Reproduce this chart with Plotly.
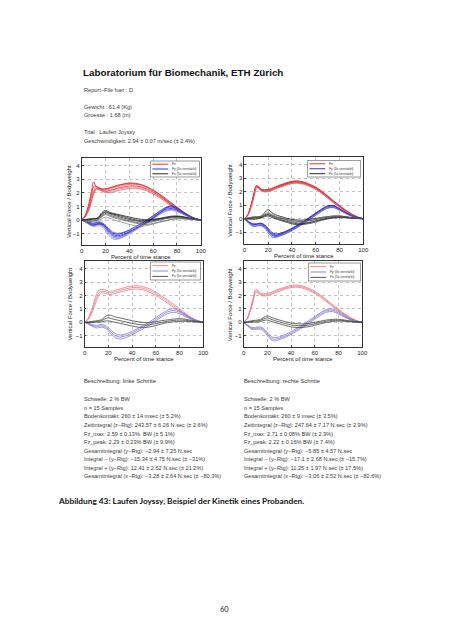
import plotly.graph_objects as go

W, H = 453, 640
OFF = 8          # default page margin of the html body
FW, FH = W - OFF, H - OFF

# ---------------- data ----------------
PCT = [0, 3, 6, 8, 10, 12, 14, 17, 20, 23, 26, 30, 35, 40, 45, 50, 55, 60, 65, 70, 75, 80, 85, 90, 95, 100]
X_TICKS = [0, 20, 40, 60, 80, 100]
Y_TICKS = [-1, 0, 1, 2, 3, 4]

# left steps, single trials
L_FZ = [
    [0, 0.35, 1.2, 2.0, 2.8, 2.45, 2.3, 2.25, 2.3, 2.35, 2.45, 2.55, 2.65, 2.72, 2.7, 2.6, 2.42, 2.18, 1.88, 1.55, 1.22, 0.92, 0.6, 0.33, 0.12, 0],
    [0, 0.3, 0.95, 1.6, 2.2, 2.45, 2.4, 2.25, 2.2, 2.25, 2.35, 2.45, 2.55, 2.62, 2.62, 2.55, 2.38, 2.14, 1.85, 1.52, 1.18, 0.88, 0.57, 0.3, 0.1, 0],
    [0, 0.25, 0.8, 1.4, 2.0, 2.3, 2.35, 2.2, 2.1, 2.15, 2.22, 2.33, 2.42, 2.5, 2.5, 2.42, 2.27, 2.05, 1.78, 1.47, 1.13, 0.83, 0.53, 0.28, 0.1, 0],
    [0, 0.28, 0.9, 1.5, 2.1, 2.35, 2.28, 2.15, 2.05, 2.08, 2.15, 2.25, 2.35, 2.42, 2.42, 2.35, 2.2, 1.98, 1.72, 1.4, 1.07, 0.78, 0.5, 0.26, 0.09, 0],
    [0, 0.32, 1.05, 1.8, 2.45, 2.5, 2.38, 2.3, 2.28, 2.32, 2.42, 2.52, 2.62, 2.68, 2.66, 2.58, 2.42, 2.2, 1.93, 1.62, 1.28, 0.95, 0.62, 0.34, 0.12, 0],
    [0, 0.22, 0.75, 1.3, 1.9, 2.2, 2.25, 2.12, 2.02, 2.0, 2.05, 2.15, 2.25, 2.33, 2.34, 2.28, 2.14, 1.93, 1.67, 1.36, 1.04, 0.75, 0.48, 0.25, 0.08, 0],
]
L_FY = [
    [0, -0.1, -0.22, -0.3, -0.33, -0.3, -0.25, -0.3, -0.5, -0.8, -1.05, -1.15, -1.05, -0.85, -0.62, -0.38, -0.1, 0.2, 0.5, 0.75, 0.85, 0.72, 0.5, 0.27, 0.1, 0],
    [0, -0.12, -0.28, -0.38, -0.42, -0.38, -0.32, -0.4, -0.65, -1.0, -1.25, -1.35, -1.2, -0.98, -0.72, -0.45, -0.18, 0.12, 0.42, 0.68, 0.78, 0.66, 0.45, 0.24, 0.08, 0],
    [0, -0.08, -0.18, -0.22, -0.25, -0.22, -0.18, -0.25, -0.45, -0.72, -0.95, -1.05, -0.95, -0.75, -0.5, -0.25, 0.02, 0.32, 0.62, 0.9, 0.98, 0.82, 0.56, 0.3, 0.1, 0],
    [0, -0.15, -0.32, -0.42, -0.48, -0.45, -0.4, -0.5, -0.78, -1.15, -1.38, -1.42, -1.25, -1.0, -0.75, -0.5, -0.22, 0.08, 0.38, 0.62, 0.72, 0.62, 0.42, 0.22, 0.08, 0],
    [0, -0.1, -0.25, -0.35, -0.38, -0.35, -0.3, -0.35, -0.58, -0.9, -1.15, -1.25, -1.12, -0.9, -0.66, -0.4, -0.14, 0.16, 0.48, 0.8, 1.05, 0.9, 0.6, 0.32, 0.11, 0],
    [0, -0.06, -0.15, -0.2, -0.22, -0.18, -0.12, -0.18, -0.38, -0.65, -0.88, -0.98, -0.9, -0.72, -0.5, -0.27, 0.0, 0.28, 0.58, 0.85, 0.95, 0.8, 0.55, 0.3, 0.1, 0],
]
L_FX = [
    [0, 0.02, 0.05, 0.05, 0.08, 0.1, 0.2, 0.55, 0.72, 0.58, 0.5, 0.42, 0.32, 0.22, 0.12, 0.05, 0.02, 0.05, 0.1, 0.16, 0.22, 0.24, 0.2, 0.12, 0.05, 0],
    [0, -0.05, -0.1, -0.1, -0.08, -0.05, 0.0, 0.25, 0.4, 0.3, 0.2, 0.1, -0.02, -0.12, -0.22, -0.3, -0.32, -0.25, -0.15, -0.05, 0.05, 0.1, 0.1, 0.07, 0.03, 0],
    [0, 0.0, 0.02, 0.04, 0.06, 0.08, 0.12, 0.4, 0.58, 0.48, 0.38, 0.28, 0.15, 0.05, -0.05, -0.12, -0.12, -0.05, 0.05, 0.15, 0.22, 0.26, 0.22, 0.13, 0.05, 0],
    [0, -0.08, -0.12, -0.12, -0.1, -0.08, -0.05, 0.1, 0.22, 0.15, 0.05, -0.08, -0.2, -0.32, -0.42, -0.45, -0.4, -0.3, -0.18, -0.08, 0.02, 0.08, 0.08, 0.05, 0.02, 0],
    [0, 0.03, 0.08, 0.1, 0.12, 0.12, 0.15, 0.45, 0.62, 0.52, 0.45, 0.35, 0.25, 0.12, 0.02, -0.05, -0.05, 0.02, 0.1, 0.2, 0.28, 0.3, 0.25, 0.15, 0.06, 0],
    [0, -0.03, -0.05, -0.04, -0.02, 0.0, 0.05, 0.3, 0.48, 0.38, 0.28, 0.18, 0.05, -0.05, -0.15, -0.22, -0.2, -0.12, -0.02, 0.08, 0.15, 0.18, 0.15, 0.09, 0.03, 0],
]

# right steps, single trials
R_FZ = [
    [0, 0.3, 1.1, 1.8, 2.42, 2.35, 2.15, 2.1, 2.12, 2.2, 2.32, 2.45, 2.6, 2.72, 2.75, 2.68, 2.5, 2.3, 2.0, 1.65, 1.28, 0.95, 0.62, 0.35, 0.13, 0],
    [0, 0.28, 1.0, 1.65, 2.3, 2.3, 2.1, 2.02, 2.05, 2.12, 2.25, 2.38, 2.53, 2.65, 2.68, 2.6, 2.43, 2.22, 1.93, 1.58, 1.22, 0.9, 0.58, 0.32, 0.12, 0],
    [0, 0.32, 1.15, 1.9, 2.45, 2.38, 2.2, 2.15, 2.18, 2.25, 2.36, 2.5, 2.65, 2.78, 2.8, 2.72, 2.55, 2.35, 2.05, 1.7, 1.32, 0.98, 0.64, 0.36, 0.13, 0],
    [0, 0.25, 0.95, 1.6, 2.2, 2.25, 2.05, 1.98, 2.0, 2.08, 2.2, 2.33, 2.48, 2.6, 2.62, 2.55, 2.38, 2.18, 1.88, 1.52, 1.18, 0.86, 0.55, 0.3, 0.11, 0],
    [0, 0.3, 1.05, 1.75, 2.38, 2.32, 2.12, 2.06, 2.08, 2.16, 2.28, 2.42, 2.57, 2.7, 2.72, 2.64, 2.47, 2.26, 1.96, 1.62, 1.25, 0.92, 0.6, 0.33, 0.12, 0],
    [0, 0.27, 1.02, 1.7, 2.35, 2.28, 2.08, 2.0, 2.02, 2.1, 2.22, 2.35, 2.5, 2.62, 2.65, 2.58, 2.41, 2.2, 1.9, 1.55, 1.2, 0.88, 0.57, 0.31, 0.11, 0],
]
R_FY = [
    [0, -0.2, -0.4, -0.45, -0.45, -0.42, -0.42, -0.55, -0.85, -1.15, -1.25, -1.18, -1.0, -0.78, -0.52, -0.25, 0.05, 0.35, 0.65, 0.88, 0.92, 0.7, 0.45, 0.22, 0.08, 0],
    [0, -0.25, -0.48, -0.52, -0.5, -0.48, -0.5, -0.7, -1.05, -1.35, -1.4, -1.28, -1.08, -0.85, -0.6, -0.32, -0.02, 0.28, 0.58, 0.8, 0.85, 0.65, 0.42, 0.2, 0.07, 0],
    [0, -0.18, -0.35, -0.38, -0.38, -0.35, -0.33, -0.45, -0.72, -1.0, -1.12, -1.08, -0.92, -0.7, -0.45, -0.18, 0.12, 0.42, 0.72, 0.95, 0.98, 0.75, 0.48, 0.24, 0.08, 0],
    [0, -0.22, -0.42, -0.48, -0.48, -0.45, -0.45, -0.62, -0.95, -1.25, -1.32, -1.22, -1.04, -0.82, -0.56, -0.28, 0.02, 0.32, 0.62, 0.85, 0.88, 0.68, 0.44, 0.21, 0.07, 0],
    [0, -0.2, -0.38, -0.42, -0.4, -0.36, -0.35, -0.5, -0.8, -1.08, -1.2, -1.15, -0.97, -0.75, -0.5, -0.22, 0.08, 0.38, 0.68, 0.92, 0.96, 0.73, 0.47, 0.23, 0.08, 0],
    [0, -0.28, -0.52, -0.58, -0.56, -0.52, -0.52, -0.6, -0.9, -1.2, -1.32, -1.25, -1.1, -0.88, -0.62, -0.35, -0.05, 0.25, 0.55, 0.78, 0.82, 0.64, 0.41, 0.2, 0.07, 0],
]
R_FX = [
    [0, 0.05, 0.1, 0.12, 0.12, 0.12, 0.15, 0.45, 0.68, 0.45, 0.3, 0.18, 0.05, -0.05, -0.1, -0.1, -0.05, 0.02, 0.1, 0.16, 0.2, 0.2, 0.15, 0.08, 0.03, 0],
    [0, 0.02, 0.05, 0.06, 0.08, 0.1, 0.12, 0.25, 0.32, 0.22, 0.12, 0.02, -0.1, -0.22, -0.3, -0.3, -0.25, -0.15, -0.05, 0.05, 0.12, 0.14, 0.1, 0.06, 0.02, 0],
    [0, -0.03, -0.05, -0.05, -0.03, 0.0, 0.05, 0.15, 0.2, 0.1, 0.0, -0.12, -0.25, -0.38, -0.45, -0.42, -0.35, -0.25, -0.12, -0.02, 0.05, 0.08, 0.07, 0.04, 0.01, 0],
    [0, 0.06, 0.12, 0.15, 0.16, 0.16, 0.2, 0.35, 0.45, 0.32, 0.2, 0.1, -0.02, -0.12, -0.18, -0.18, -0.12, -0.04, 0.06, 0.14, 0.2, 0.22, 0.16, 0.09, 0.03, 0],
    [0, 0.0, 0.02, 0.04, 0.05, 0.06, 0.1, 0.22, 0.28, 0.18, 0.06, -0.06, -0.18, -0.3, -0.38, -0.36, -0.28, -0.18, -0.06, 0.04, 0.1, 0.12, 0.1, 0.05, 0.02, 0],
    [0, 0.04, 0.08, 0.1, 0.12, 0.14, 0.18, 0.3, 0.38, 0.28, 0.15, 0.05, -0.05, -0.15, -0.2, -0.2, -0.14, -0.06, 0.03, 0.1, 0.16, 0.18, 0.14, 0.08, 0.03, 0],
]

# mean and standard deviation curves (bottom panels)
L_FZ_MEAN = [0, 0.25, 0.8, 1.35, 1.85, 2.2, 2.32, 2.3, 2.2, 2.2, 2.28, 2.38, 2.5, 2.58, 2.6, 2.52, 2.36, 2.12, 1.85, 1.55, 1.23, 0.92, 0.6, 0.32, 0.12, 0]
L_FZ_SD = [0, 0.05, 0.15, 0.22, 0.25, 0.18, 0.12, 0.12, 0.12, 0.12, 0.12, 0.12, 0.12, 0.12, 0.12, 0.12, 0.12, 0.12, 0.12, 0.12, 0.12, 0.1, 0.07, 0.05, 0.02, 0]
L_FY_MEAN = [0, -0.1, -0.22, -0.28, -0.32, -0.3, -0.26, -0.32, -0.52, -0.8, -1.0, -1.1, -1.0, -0.8, -0.57, -0.33, -0.07, 0.22, 0.52, 0.78, 0.88, 0.75, 0.5, 0.27, 0.1, 0]
L_FY_SD = [0, 0.04, 0.07, 0.08, 0.1, 0.1, 0.1, 0.1, 0.12, 0.14, 0.15, 0.15, 0.14, 0.12, 0.12, 0.12, 0.12, 0.12, 0.12, 0.13, 0.13, 0.1, 0.08, 0.05, 0.03, 0]
L_FX_MEAN = [0, 0.0, 0.02, 0.04, 0.06, 0.08, 0.1, 0.25, 0.33, 0.27, 0.2, 0.12, 0.02, -0.08, -0.16, -0.2, -0.18, -0.1, 0.0, 0.08, 0.14, 0.17, 0.15, 0.09, 0.04, 0]
L_FX_SD = [0, 0.02, 0.04, 0.05, 0.06, 0.07, 0.08, 0.16, 0.22, 0.22, 0.2, 0.2, 0.2, 0.2, 0.2, 0.18, 0.16, 0.14, 0.12, 0.1, 0.1, 0.1, 0.08, 0.05, 0.02, 0]

R_FZ_MEAN = [0, 0.28, 1.05, 1.72, 2.33, 2.3, 2.1, 2.04, 2.07, 2.15, 2.27, 2.4, 2.55, 2.67, 2.7, 2.62, 2.45, 2.24, 1.95, 1.6, 1.24, 0.92, 0.6, 0.33, 0.12, 0]
R_FZ_SD = [0, 0.04, 0.1, 0.14, 0.1, 0.08, 0.08, 0.08, 0.08, 0.08, 0.08, 0.08, 0.08, 0.08, 0.08, 0.08, 0.08, 0.08, 0.08, 0.08, 0.08, 0.07, 0.05, 0.03, 0.02, 0]
R_FY_MEAN = [0, -0.22, -0.42, -0.47, -0.46, -0.43, -0.43, -0.57, -0.88, -1.17, -1.27, -1.19, -1.02, -0.8, -0.54, -0.27, 0.03, 0.33, 0.63, 0.86, 0.9, 0.69, 0.45, 0.22, 0.08, 0]
R_FY_SD = [0, 0.04, 0.07, 0.08, 0.08, 0.08, 0.08, 0.1, 0.12, 0.12, 0.12, 0.1, 0.1, 0.1, 0.1, 0.1, 0.1, 0.1, 0.1, 0.1, 0.1, 0.08, 0.06, 0.04, 0.02, 0]
R_FX_MEAN = [0, 0.02, 0.05, 0.07, 0.08, 0.1, 0.13, 0.26, 0.33, 0.23, 0.13, 0.03, -0.09, -0.2, -0.25, -0.25, -0.2, -0.11, -0.01, 0.08, 0.14, 0.16, 0.12, 0.07, 0.02, 0]
R_FX_SD = [0, 0.03, 0.05, 0.06, 0.07, 0.07, 0.08, 0.12, 0.16, 0.15, 0.14, 0.14, 0.14, 0.14, 0.14, 0.13, 0.12, 0.11, 0.1, 0.09, 0.08, 0.07, 0.05, 0.03, 0.02, 0]

LEGEND_LABELS = ["Fz", "Fy (3x verstärkt)", "Fx (5x verstärkt)"]

HEADER = [
    "Report−File fuer : D",
    "Gewicht : 61.4 (Kg)",
    "Groesse : 1.68 (m)",
    "Trial : Laufen Joyssy",
    "Geschwindigkeit: 2.94 ± 0.07 m/sec (± 2.4%)",
]
STATS_LEFT = [
    "Schwelle: 2 % BW",
    "n = 15 Samples",
    "Bodenkontakt: 260 ± 14 msec (± 5.2%)",
    "Zeitintegral (z−Rtg): 243.57 ± 6.26 N.sec (± 2.6%)",
    "Fz_max: 2.59 ± 0.13%  BW (± 5.1%)",
    "Fz_peak: 2.29 ± 0.23% BW (± 9.9%)",
    "Gesamtintegral (y−Rtg): −2.94 ± 7.25 N.sec",
    "Integral − (y−Rtg): −15.34 ± 4.75 N.sec (± −31%)",
    "Integral + (y−Rtg): 12.41 ± 2.62 N.sec (± 21.2%)",
    "Gesamtintegral (x−Rtg): −3.28 ± 2.64 N.sec (± −80.3%)",
]
STATS_RIGHT = [
    "Schwelle: 2 % BW",
    "n = 15 Samples",
    "Bodenkontakt: 260 ± 9 msec (± 3.5%)",
    "Zeitintegral (z−Rtg): 247.64 ± 7.17 N.sec (± 2.9%)",
    "Fz_max: 2.71 ± 0.08% BW (± 2.9%)",
    "Fz_peak: 2.22 ± 0.16% BW (± 7.4%)",
    "Gesamtintegral (y−Rtg): −5.85 ± 4.57 N.sec",
    "Integral − (y−Rtg): −17.1 ± 2.68 N.sec (± −15.7%)",
    "Integral + (y−Rtg): 11.25 ± 1.97 N.sec (± 17.5%)",
    "Gesamtintegral (x−Rtg): −3.06 ± 2.52 N.sec (± −82.6%)",
]

# ---------------- layout helpers ----------------
FONT = "Liberation Sans, Arial, sans-serif"
def px(x):
    return (x - OFF) / FW
def py(y):
    return 1 - (y - OFF) / FH

# panel pixel boxes (page coordinates): (left, right, top, bottom)
PANELS = [
    ("x", "y", (81, 202.3, 158.1, 245.2)),
    ("x2", "y2", (246.7, 367.7, 157.3, 243.7)),
    ("x3", "y3", (84, 204.7, 261.3, 347.1)),
    ("x4", "y4", (246, 366.7, 261.3, 347.1)),
]

fig = go.Figure()

TOP_COLS = {
    "fz": ["#e8141c", "#f26a70", "#d90f17", "#f4898d", "#ee2a31", "#f0555b"],
    "fy": ["#1c1cd2", "#6464e0", "#1414b4", "#8a8ae8", "#2a2ae0", "#5050d6"],
    "fx": ["#111111", "#666666", "#333333", "#8a8a8a", "#222222", "#555555"],
}

def add_trials(xa, ya, fz, fy, fx):
    for key, series in (("fz", fz), ("fy", fy), ("fx", fx)):
        for i, tr in enumerate(series):
            fig.add_trace(go.Scatter(x=PCT, y=tr, mode="lines", xaxis=xa, yaxis=ya,
                                     line=dict(color=TOP_COLS[key][i % 6], width=0.8, shape="spline", smoothing=0.8),
                                     showlegend=False, hoverinfo="skip"))

def add_band(xa, ya, mean, sd, color):
    lo = [m - s for m, s in zip(mean, sd)]
    hi = [m + s for m, s in zip(mean, sd)]
    for curve in (hi, mean, lo):
        fig.add_trace(go.Scatter(x=PCT, y=curve, mode="lines", xaxis=xa, yaxis=ya,
                                 line=dict(color=color, width=0.8, shape="spline", smoothing=0.8),
                                 showlegend=False, hoverinfo="skip"))

add_trials("x", "y", L_FZ, L_FY, L_FX)
add_trials("x2", "y2", R_FZ, R_FY, R_FX)
BOT_COLS = ["#ec7c84", "#7e7ad8", "#444444"]
add_band("x3", "y3", L_FZ_MEAN, L_FZ_SD, BOT_COLS[0])
add_band("x3", "y3", L_FY_MEAN, L_FY_SD, BOT_COLS[1])
add_band("x3", "y3", L_FX_MEAN, L_FX_SD, BOT_COLS[2])
add_band("x4", "y4", R_FZ_MEAN, R_FZ_SD, BOT_COLS[0])
add_band("x4", "y4", R_FY_MEAN, R_FY_SD, BOT_COLS[1])
add_band("x4", "y4", R_FX_MEAN, R_FX_SD, BOT_COLS[2])

axis_common = dict(showline=True, mirror=True, linecolor="#333333", linewidth=0.7,
                   showgrid=True, gridcolor="#c4c4c4", griddash="dot", gridwidth=0.5,
                   zeroline=False, ticks="inside", ticklen=2, tickcolor="#444444", tickwidth=0.6,
                   tickfont=dict(family=FONT, size=6, color="#222222"), fixedrange=True)

layout_axes = {}
for xa, ya, (l, r, t, b) in PANELS:
    xn = "xaxis" + xa[1:]
    yn = "yaxis" + ya[1:]
    layout_axes[xn] = dict(axis_common, domain=[px(l), px(r)], range=[0, 100], tickvals=X_TICKS, anchor=ya)
    layout_axes[yn] = dict(axis_common, domain=[py(b), py(t)], range=[-1.85, 4.55], tickvals=Y_TICKS, anchor=xa)

annotations = []
shapes = []

def text(x, y, s, size=5.6, bold=False, color="#3a3a3a", anchor="left", angle=0, family=FONT):
    annotations.append(dict(x=px(x), y=py(y), xref="paper", yref="paper", text=("<b>%s</b>" % s) if bold else s,
                            showarrow=False, xanchor=anchor, yanchor="middle", textangle=angle,
                            font=dict(family=family, size=size, color=color)))

LX, RX = 81.2, 243.8

# header
text(80.5, 72.7, "Laboratorium für Biomechanik, ETH Zürich", size=9.8, bold=True, color="#111111")
for s, y in zip(HEADER, [89.5, 106.5, 115, 132, 140.5]):
    text(LX, y, s)

# axis titles
for (xa, ya, (l, r, t, b)), ylab_x in zip(PANELS, [67.5, 232.5, 69.5, 232]):
    text((l + r) / 2, b + 12, "Percent of time stance", size=6, anchor="center", color="#222222")
    text(ylab_x, (t + b) / 2, "Vertical Force / Bodyweight", size=6, anchor="center", angle=-90, color="#222222")

# legends
LEG_BOXES = [
    ((151, 201, 161, 177), [TOP_COLS["fz"][0], TOP_COLS["fy"][0], TOP_COLS["fx"][0]]),
    ((311, 365, 160.5, 177), [TOP_COLS["fz"][0], TOP_COLS["fy"][0], TOP_COLS["fx"][0]]),
    ((151, 202, 262, 280), BOT_COLS),
    ((312, 365, 263, 281), BOT_COLS),
]
for (l, r, t, b), cols in LEG_BOXES:
    shapes.append(dict(type="rect", xref="paper", yref="paper", x0=px(l), x1=px(r), y0=py(b), y1=py(t),
                       fillcolor="white", line=dict(color="#555555", width=0.6), layer="above"))
    hgt = b - t
    for k, (lab, c) in enumerate(zip(LEGEND_LABELS, cols)):
        yy = t + hgt * (0.2 + 0.3 * k)
        shapes.append(dict(type="line", xref="paper", yref="paper", x0=px(l + 2), x1=px(l + 18),
                           y0=py(yy), y1=py(yy), line=dict(color=c, width=0.9), layer="above"))
        text(l + 20, yy, lab, size=3.4, color="#333333")

# descriptions
text(LX, 381, "Beschreibung: linke Schritte", size=5.8, color="#333333")
text(RX, 381, "Beschreibung: rechte Schritte", size=5.8, color="#333333")
ys = [399.3 + 8.55 * i for i in range(10)]
for s, y in zip(STATS_LEFT, ys):
    text(LX, y, s)
for s, y in zip(STATS_RIGHT, ys):
    text(RX, y, s)

# caption and page number
text(55, 501, "Abbildung 43: Laufen Joyssy, Beispiel der Kinetik eines Probanden.", size=8.3, bold=True,
     color="#111111", family="Lato, Liberation Sans, sans-serif")
text(226.5, 609, "60", size=7.5, anchor="center", color="#222222", family="Lato, Liberation Sans, sans-serif")

fig.update_layout(width=FW, height=FH, margin=dict(l=0, r=0, t=0, b=0), autosize=False,
                  paper_bgcolor="white", plot_bgcolor="white", showlegend=False,
                  annotations=annotations, shapes=shapes, **layout_axes)

fig.write_html("out.html")
